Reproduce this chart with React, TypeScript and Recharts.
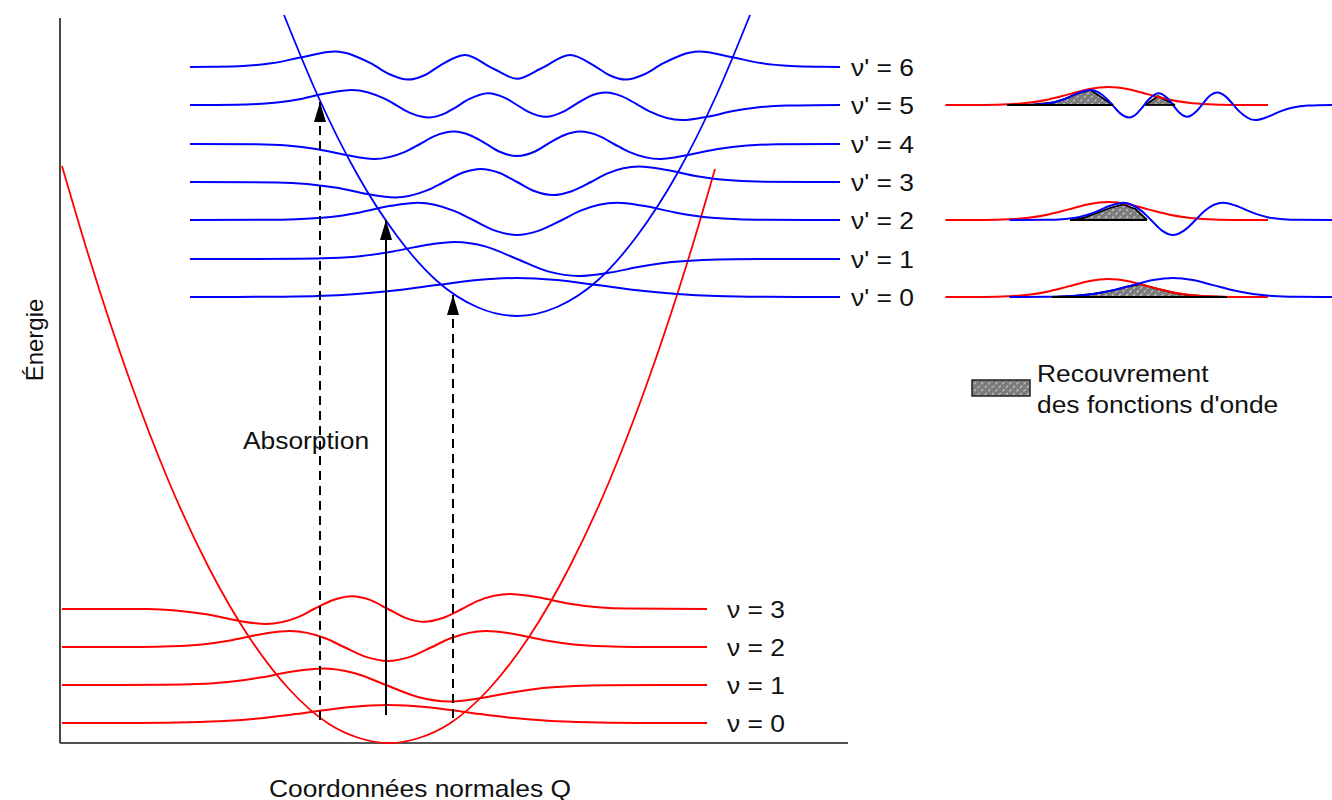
import { ComposedChart, Line, Area, Scatter, XAxis, YAxis, ReferenceLine, ReferenceArea } from 'recharts'

type Pt = [number, number]

// energy levels (arbitrary units, 0 = bottom of the ground-state well)
const groundLevels = [20, 58, 96, 134] // v = 0..3
const excitedLevels = [446, 484, 523, 561, 599, 638, 676] // v' = 0..6
const groundNames = ['ν = 0', 'ν = 1', 'ν = 2', 'ν = 3']
const excitedNames = ["ν' = 0", "ν' = 1", "ν' = 2", "ν' = 3", "ν' = 4", "ν' = 5", "ν' = 6"]

// potential wells, [Q, E]
const groundWell: Pt[] = [[0, 577], [27, 486], [67, 365], [107, 261], [147, 175], [187, 106], [227, 54], [267, 19], [297, 5], [327, 0], [357, 5], [387, 19], [427, 54], [467, 106], [507, 175], [547, 261], [587, 365], [627, 486], [653, 574]]
const excitedWell: Pt[] = [[222, 728], [255, 649], [295, 569], [335, 507], [375, 462], [415, 436], [455, 427], [495, 436], [535, 462], [575, 507], [615, 569], [655, 649], [688, 728]]

// vibrational wavefunctions drawn on their level, [Q, E]
const ground0: Pt[] = [[0, 20], [76, 20.1], [126, 20.7], [166, 22.2], [206, 25.5], [246, 30.6], [286, 35.8], [326, 38], [366, 35.8], [406, 30.6], [446, 25.5], [486, 22.2], [526, 20.7], [576, 20.1], [645, 20]]
const ground1: Pt[] = [[0, 58], [103, 58.2], [135, 58.9], [166, 61], [198, 65.4], [229, 71.2], [261, 74.5], [292, 70], [324, 58], [356, 46], [387, 41.5], [418, 44.8], [450, 50.6], [481, 55], [513, 57.1], [544, 57.8], [645, 58]]
const ground2: Pt[] = [[0, 96], [78, 96.1], [109, 96.7], [140, 98.6], [171, 103.1], [202, 109.3], [228, 112], [264, 104.5], [282, 96], [304, 86.1], [326, 82], [348, 86.1], [370, 96], [388, 104.5], [424, 112], [450, 109.3], [481, 103.1], [512, 98.6], [543, 96.7], [574, 96.1], [645, 96]]
const ground3: Pt[] = [[0, 134], [86, 134], [116, 132.2], [146, 128.4], [176, 122.3], [204, 119], [236, 125.8], [252, 134], [272, 143.3], [290, 146.8], [308, 143.1], [326, 134], [344, 124.9], [362, 121.2], [380, 124.7], [400, 134], [416, 142.2], [448, 149], [476, 145.7], [506, 139.6], [536, 135.8], [566, 134.4], [645, 134]]

const excited0: Pt[] = [[128, 446], [155, 446], [205, 446.2], [255, 447], [295, 449], [335, 452.7], [375, 457.9], [415, 462.9], [455, 465], [495, 462.9], [535, 457.9], [575, 452.7], [615, 449], [655, 447], [705, 446.2], [755, 446], [778, 446]]
const excited1: Pt[] = [[128, 484], [238, 484.2], [269, 484.9], [300, 487.1], [331, 491.6], [362, 497.6], [393, 501], [424, 496.4], [455, 484], [486, 471.6], [517, 467], [548, 470.4], [579, 476.4], [610, 480.9], [641, 483.1], [672, 483.8], [778, 484]]
const excited2: Pt[] = [[128, 523], [203, 523.2], [234, 523.8], [266, 525.8], [298, 530.6], [329, 537.2], [356, 540.2], [392, 532.1], [411, 523], [433, 512.4], [455, 508], [477, 512.4], [500, 523], [518, 532.1], [555, 540.2], [581, 537.2], [613, 530.6], [644, 525.8], [676, 523.8], [707, 523.2], [778, 523]]
const excited3: Pt[] = [[128, 561], [215, 560.6], [245, 559.1], [275, 555.2], [305, 549], [333, 545.6], [365, 552.6], [382, 561], [401, 570.5], [419, 574.1], [437, 570.3], [455, 561], [473, 551.7], [491, 547.9], [509, 551.5], [529, 561], [545, 569.4], [577, 576.4], [605, 573], [635, 566.8], [665, 562.9], [695, 561.4], [778, 561]]
const excited4: Pt[] = [[128, 599], [195, 598.7], [225, 597.5], [254, 594.1], [284, 588], [312, 584], [343, 591.2], [358, 599], [372, 606.7], [392, 611.4], [408, 607.8], [420, 601.7], [437, 591.5], [455, 587], [473, 591.5], [490, 601.7], [502, 607.8], [518, 611.4], [538, 606.7], [552, 599], [567, 591.2], [598, 584], [626, 588], [656, 594.1], [685, 597.5], [715, 598.7], [778, 599]]
const excited5: Pt[] = [[128, 638], [185, 638.6], [215, 640.5], [239, 644.1], [263, 649.4], [290, 653.1], [323, 644.1], [335, 637.3], [350, 629.4], [367, 625.6], [383, 629.6], [392, 634.6], [407, 643.8], [426, 649.8], [443, 645.2], [455, 638], [467, 630.8], [484, 626.2], [503, 632.2], [518, 641.4], [527, 646.4], [544, 650.4], [560, 646.6], [575, 638.7], [587, 631.9], [620, 622.9], [647, 626.6], [671, 631.9], [695, 635.5], [725, 637.4], [778, 638]]
const excited6: Pt[] = [[128, 676], [152, 676.2], [181, 677], [211, 679.9], [241, 686.1], [273, 691.4], [309, 679.6], [327, 669], [346, 663.4], [363, 668], [378, 677.4], [403, 687.9], [431, 674.5], [455, 664.3], [479, 674.5], [508, 687.9], [532, 677.4], [547, 668], [564, 663.4], [583, 669], [601, 679.6], [637, 691.4], [669, 686.1], [699, 679.9], [729, 677], [759, 676.2], [778, 676]]

const groundWaves = [ground0, ground1, ground2, ground3]
const excitedWaves = [excited0, excited1, excited2, excited3, excited4, excited5, excited6]

// vertical transitions: Q, start energy, arrow tip energy
const transitions = [
  { q: 258, from: 23, to: 641, dashed: true },
  { q: 324, from: 28, to: 523, dashed: false },
  { q: 391, from: 25, to: 448, dashed: true },
]

// overlap insets: which v' is compared with v = 0, and the hatched overlap regions
const insetLevels = [5, 2, 0]
const overlaps: { level: number; pts: Pt[] }[] = [
  { level: 5, pts: [[123, 638], [169, 638.2], [215, 640.5], [239, 644.1], [263, 649.4], [290, 653.1], [335, 638]] },
  { level: 5, pts: [[400, 638], [425, 647], [459, 638]] },
  { level: 2, pts: [[249, 523], [275, 525], [300, 529.5], [329, 535], [355, 538.5], [380, 534], [403, 523]] },
  { level: 0, pts: [[213, 446], [255, 447], [295, 449], [335, 452.7], [365, 456.5], [390, 459], [406, 456.6], [429, 453.5], [463, 449.5], [489, 447.8], [526, 446.7], [563, 446]] },
]

const rows = (pts: Pt[]) => pts.map(([q, e]) => ({ q, e }))

const W = 1332
const H = 800
const Q_MAIN: [number, number] = [-62, 1270]
const Q_INSET: [number, number] = [-1891, 773]
const E_DOM: [number, number] = [-57, 743]
const FONT = '"Liberation Sans", Arial, Helvetica, sans-serif'
const BLUE = '#0000ff'
const RED = '#ff0000'
const INK = '#111'

function StartText(props: any) {
  const { cx, cy, payload } = props
  return (
    <text transform={`translate(${cx},${cy}) scale(1.1,1)`} dy="0.36em" textAnchor="start" fontFamily={FONT} fontSize={24} fill={INK}>
      {payload.text}
    </text>
  )
}

function MiddleText(props: any) {
  const { cx, cy, payload } = props
  return (
    <text transform={`translate(${cx},${cy}) scale(1.1,1)`} dy="0.36em" textAnchor="middle" fontFamily={FONT} fontSize={24} fill={INK}>
      {payload.text}
    </text>
  )
}

function VerticalText(props: any) {
  const { cx, cy, payload } = props
  return (
    <text transform={`translate(${cx},${cy}) rotate(-90)`} dy="0.36em" textAnchor="middle" fontFamily={FONT} fontSize={24} fill={INK}>
      {payload.text}
    </text>
  )
}

function ArrowHead(props: any) {
  const { cx, cy } = props
  return <polygon points={`${cx},${cy} ${cx - 6},${cy + 20} ${cx + 6},${cy + 20}`} fill="#000" />
}

export default function App() {
  const levelLabels = [
    ...excitedLevels.map((e, i) => ({ q: 789, e, text: excitedNames[i] })),
    ...groundLevels.map((e, i) => ({ q: 665, e, text: groundNames[i] })),
    { q: 975, e: 369.5, text: 'Recouvrement' },
    { q: 975, e: 339, text: "des fonctions d'onde" },
  ]
  const centeredLabels = [
    { q: 244, e: 303, text: 'Absorption' },
    { q: 358, e: -45, text: 'Coordonnées normales Q' },
  ]
  const yTitle = [{ q: -27.5, e: 403, text: 'Énergie' }]
  const tips = transitions.map((t) => ({ q: t.q, e: t.to }))

  return (
    <div style={{ position: 'absolute', left: 0, top: 0, width: W, height: H, background: '#fff' }}>
      <svg width={0} height={0} style={{ position: 'absolute' }}>
        <defs>
          <pattern id="hatch" width={5} height={5} patternUnits="userSpaceOnUse" patternTransform="rotate(45)">
            <rect width={5} height={5} fill="#7c7c7c" />
            <line x1={0} y1={0} x2={0} y2={5} stroke="#e8e8e8" strokeWidth={1.6} strokeDasharray="3 2" />
          </pattern>
        </defs>
      </svg>
      <ComposedChart width={W} height={H} margin={{ top: 0, right: 0, bottom: 0, left: 0 }}>
        <XAxis xAxisId="main" dataKey="q" type="number" domain={Q_MAIN} allowDataOverflow hide />
        <XAxis xAxisId="inset" dataKey="q" type="number" domain={Q_INSET} allowDataOverflow hide />
        <YAxis yAxisId="e" type="number" domain={E_DOM} allowDataOverflow hide />
        {insetLevels.map((k) => {
          const shift = excitedLevels[k] - groundLevels[0]
          return (
            <YAxis key={`ya${k}`} yAxisId={`g${k}`} type="number" domain={[E_DOM[0] - shift, E_DOM[1] - shift]} allowDataOverflow hide />
          )
        })}

        {/* axes */}
        <ReferenceLine xAxisId="main" yAxisId="e" segment={[{ x: -2, y: 0 }, { x: 786, y: 0 }]} stroke="#1a1a1a" strokeWidth={1.6} ifOverflow="visible" />
        <ReferenceLine xAxisId="main" yAxisId="e" segment={[{ x: -2, y: 0 }, { x: -2, y: 725 }]} stroke="#1a1a1a" strokeWidth={1.6} ifOverflow="visible" />

        {/* legend swatch */}
        <ReferenceArea xAxisId="main" yAxisId="e" x1={910} x2={968} y1={347} y2={363} fill="url(#hatch)" fillOpacity={1} stroke="#222" strokeWidth={1.5} ifOverflow="visible" />

        {/* wells */}
        <Line xAxisId="main" yAxisId="e" data={rows(groundWell)} dataKey="e" type="monotone" stroke={RED} strokeWidth={1.8} dot={false} activeDot={false} isAnimationActive={false} />
        <Line xAxisId="main" yAxisId="e" data={rows(excitedWell)} dataKey="e" type="monotone" stroke={BLUE} strokeWidth={1.8} dot={false} activeDot={false} isAnimationActive={false} />

        {/* wavefunctions */}
        {groundWaves.map((w, i) => (
          <Line key={`g${i}`} xAxisId="main" yAxisId="e" data={rows(w)} dataKey="e" type="monotone" stroke={RED} strokeWidth={2} dot={false} activeDot={false} isAnimationActive={false} />
        ))}
        {excitedWaves.map((w, i) => (
          <Line key={`x${i}`} xAxisId="main" yAxisId="e" data={rows(w)} dataKey="e" type="monotone" stroke={BLUE} strokeWidth={2} dot={false} activeDot={false} isAnimationActive={false} />
        ))}

        {/* insets: v = 0 against v' = 5, 2, 0 */}
        {overlaps.map((o, i) => (
          <Area key={`ov${i}`} xAxisId="inset" yAxisId="e" data={rows(o.pts)} dataKey="e" type="linear" baseValue={excitedLevels[o.level]} stroke="#000" strokeWidth={1.8} fill="url(#hatch)" fillOpacity={1} dot={false} activeDot={false} isAnimationActive={false} />
        ))}
        {insetLevels.map((k) => (
          <Line key={`ir${k}`} xAxisId="inset" yAxisId={`g${k}`} data={rows(ground0)} dataKey="e" type="monotone" stroke={RED} strokeWidth={2} dot={false} activeDot={false} isAnimationActive={false} />
        ))}
        {insetLevels.map((k) => (
          <Line key={`ib${k}`} xAxisId="inset" yAxisId="e" data={rows(excitedWaves[k])} dataKey="e" type="monotone" stroke={BLUE} strokeWidth={2} dot={false} activeDot={false} isAnimationActive={false} />
        ))}
        {overlaps.map((o, i) => (
          <ReferenceLine
            key={`ob${i}`}
            xAxisId="inset"
            yAxisId="e"
            segment={[{ x: o.pts[0][0], y: excitedLevels[o.level] }, { x: o.pts[o.pts.length - 1][0], y: excitedLevels[o.level] }]}
            stroke="#000"
            strokeWidth={1.8}
            ifOverflow="visible"
          />
        ))}

        {/* transitions */}
        {transitions.map((t, i) => (
          <Line
            key={`t${i}`}
            xAxisId="main"
            yAxisId="e"
            data={[{ q: t.q, e: t.from }, { q: t.q, e: t.to }]}
            dataKey="e"
            type="linear"
            stroke="#000"
            strokeWidth={2}
            strokeDasharray={t.dashed ? '9 6' : undefined}
            dot={false}
            activeDot={false}
            isAnimationActive={false}
          />
        ))}
        <Scatter xAxisId="main" yAxisId="e" data={tips} dataKey="e" shape={ArrowHead} isAnimationActive={false} />

        {/* text */}
        <Scatter xAxisId="main" yAxisId="e" data={levelLabels} dataKey="e" shape={StartText} isAnimationActive={false} />
        <Scatter xAxisId="main" yAxisId="e" data={centeredLabels} dataKey="e" shape={MiddleText} isAnimationActive={false} />
        <Scatter xAxisId="main" yAxisId="e" data={yTitle} dataKey="e" shape={VerticalText} isAnimationActive={false} />
      </ComposedChart>
    </div>
  )
}
